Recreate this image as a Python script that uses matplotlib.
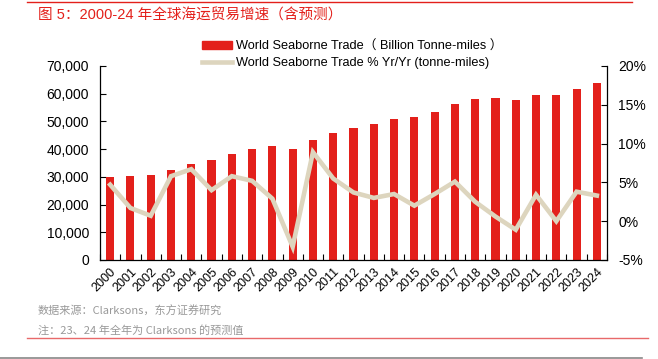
import numpy as np
import matplotlib.pyplot as plt
from matplotlib.lines import Line2D
from matplotlib.ticker import FuncFormatter, MultipleLocator, FixedLocator

LATIN = ['Liberation Sans', 'Noto Sans CJK SC']
CJK = ['Noto Sans CJK SC', 'Liberation Sans']
plt.rcParams['font.family'] = LATIN

# ── data ─────────────────────────────────────────────────────────────────────
years = [str(y) for y in range(2000, 2025)]
trade = [29850, 30400, 30700, 32500, 34500, 36100, 38100, 40000, 41200, 39900,
         43300, 45800, 47500, 49000, 50800, 51600, 53400, 56300, 58000, 58400,
         57700, 59600, 59600, 61800, 63900]
growth = [4.7, 1.7, 0.7, 5.8, 6.7, 4.0, 5.8, 5.2, 2.9, -3.3,
          8.9, 5.5, 3.7, 3.0, 3.5, 2.0, 3.5, 5.1, 2.5, 0.6,
          -1.1, 3.4, 0.0, 3.8, 3.3]

RED = '#E3201B'
BEIGE = '#DDD5BE'

fig = plt.figure(figsize=(6.58, 3.59), dpi=100)
ax = fig.add_axes([0.152, 0.2758, 0.7705, 0.5404])
ax2 = ax.twinx()

x = np.arange(len(years))
ax.bar(x, trade, width=0.4, color=RED, zorder=2)
ax2.plot(x, growth, color=BEIGE, lw=3.3, solid_joinstyle='miter', zorder=3)

ax.set_xlim(-0.5, len(years) - 0.5)
ax.set_ylim(0, 70000)
ax.yaxis.set_major_locator(MultipleLocator(10000))
ax.yaxis.set_major_formatter(FuncFormatter(lambda v, p: f'{int(v):,}'))
ax2.set_ylim(-5, 20)
ax2.yaxis.set_major_locator(MultipleLocator(5))
ax2.yaxis.set_major_formatter(FuncFormatter(lambda v, p: f'{int(v)}%'))

ax.set_xticks(x)
ax.set_xticklabels(years, rotation=45, ha='right', rotation_mode='anchor', fontsize=9)
ax.tick_params(axis='x', length=0, pad=4)
ax.xaxis.set_minor_locator(FixedLocator(np.arange(-0.5, len(years), 1.0)))
ax.tick_params(axis='x', which='minor', direction='in', length=4, width=0.8)
ax.tick_params(axis='y', direction='in', length=4, labelsize=10, pad=8)
ax2.tick_params(axis='y', direction='in', length=4, labelsize=10, pad=8)

for a in (ax, ax2):
    a.spines['top'].set_visible(False)
    for s in ('left', 'right', 'bottom'):
        a.spines[s].set_linewidth(0.9)
ax.spines['right'].set_visible(False)
ax2.spines['left'].set_visible(False)
ax2.spines['bottom'].set_visible(False)

handles = [plt.Rectangle((0, 0), 1, 1, color=RED),
           Line2D([0], [0], color=BEIGE, lw=3.3)]
labels = ['World Seaborne Trade（ Billion Tonne-miles ）',
          'World Seaborne Trade % Yr/Yr (tonne-miles)']
leg = fig.legend(handles, labels, loc='upper left', bbox_to_anchor=(0.298, 0.905),
                 frameon=False, handlelength=2.3, handleheight=0.5,
                 handletextpad=0.35, labelspacing=0.35, borderpad=0,
                 prop={'family': LATIN, 'size': 9.2})

# header / footer
fig.add_artist(Line2D([0.041, 0.96], [0.994, 0.994], color=RED, lw=1))
fig.text(0.057, 0.958, '图 5：2000-24 年全球海运贸易增速（含预测）', color=RED,
         fontsize=10.5, fontweight='medium', family=LATIN, va='center')
fig.text(0.057, 0.134, '数据来源：Clarksons，东方证券研究', color='#999999',
         fontsize=8, family=CJK, va='center')
fig.text(0.057, 0.080, '注：23、24 年全年为 Clarksons 的预测值', color='#999999',
         fontsize=8, family=CJK, va='center')
fig.add_artist(Line2D([0.041, 0.985], [0.058, 0.058], color='#E8696A', lw=1))
fig.add_artist(Line2D([0.0, 0.975], [0.003, 0.003], color='#888888', lw=1.2))

fig.savefig('out.png', dpi=100)
